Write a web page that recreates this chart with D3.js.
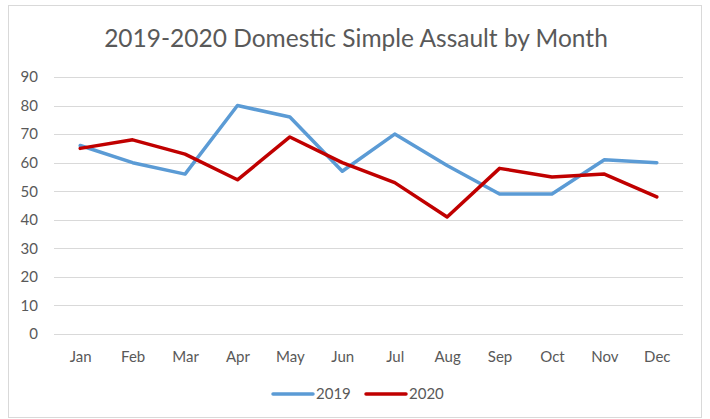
<!DOCTYPE html>
<html>
<head>
<meta charset="utf-8">
<script src="https://cdn.jsdelivr.net/npm/d3@7"></script>
<style>
  body { margin: 0; background: #fff; }
  svg { display: block; font-family: Lato, "Open Sans", sans-serif; }
</style>
</head>
<body>
<svg id="chart" width="710" height="419"></svg>
<script>
// data
const months = ['Jan', 'Feb', 'Mar', 'Apr', 'May', 'Jun', 'Jul', 'Aug', 'Sep', 'Oct', 'Nov', 'Dec'];
const values2019 = [66, 60, 56, 80, 76, 57, 70, 59, 49, 49, 61, 60];
const values2020 = [65, 68, 63, 54, 69, 60, 53, 41, 58, 55, 56, 48];
const yTicks = [0, 10, 20, 30, 40, 50, 60, 70, 80, 90];

const series = [
  { name: '2019', values: values2019, color: '#5B9BD5' },
  { name: '2020', values: values2020, color: '#C00000' },
];

const svg = d3.select('#chart');

// chart frame
svg.append('rect')
  .attr('x', 8.5).attr('y', 5.5)
  .attr('width', 693).attr('height', 412)
  .attr('fill', '#fff').attr('stroke', '#d9d9d9');

const plot = { left: 54, right: 683, top: 77, bottom: 334 };

const x = d3.scalePoint().domain(months).range([plot.left, plot.right]).padding(0.5);
const y = d3.scaleLinear().domain([0, 90]).range([plot.bottom, plot.top]);

// gridlines
svg.append('g')
  .selectAll('line')
  .data(yTicks)
  .enter().append('line')
  .attr('x1', plot.left).attr('x2', plot.right)
  .attr('y1', d => Math.round(y(d)) + 0.5).attr('y2', d => Math.round(y(d)) + 0.5)
  .attr('stroke', '#d9d9d9').attr('stroke-width', 1);

// y axis labels
const yAxis = svg.append('g')
  .attr('transform', `translate(${plot.left - 16},0)`)
  .call(d3.axisLeft(y).tickValues(yTicks).tickSize(0).tickPadding(0));
yAxis.select('.domain').remove();
yAxis.selectAll('text')
  .attr('fill', '#595959').style('font-size', '15px').style('font-family', 'Lato, sans-serif');

// x axis labels
const xAxis = svg.append('g')
  .attr('transform', `translate(0,${plot.bottom + 17})`)
  .call(d3.axisBottom(x).tickSize(0).tickPadding(0));
xAxis.select('.domain').remove();
xAxis.selectAll('text')
  .attr('fill', '#595959').style('font-size', '15px').style('font-family', 'Lato, sans-serif');

// lines
const line = d3.line()
  .x((d, i) => x(months[i]))
  .y(d => y(d));

svg.append('g')
  .selectAll('path')
  .data(series)
  .enter().append('path')
  .attr('d', d => line(d.values))
  .attr('fill', 'none')
  .attr('stroke', d => d.color)
  .attr('stroke-width', 3.5)
  .attr('stroke-linejoin', 'round')
  .attr('stroke-linecap', 'round');

// title
svg.append('text')
  .attr('x', 356).attr('y', 47)
  .attr('text-anchor', 'middle')
  .attr('fill', '#595959')
  .style('font-size', '24.5px')
  .text('2019-2020 Domestic Simple Assault by Month');

// legend
const legend = svg.append('g')
  .selectAll('g')
  .data(series)
  .enter().append('g')
  .attr('transform', (d, i) => `translate(${273 + i * 93},394)`);

legend.append('line')
  .attr('x1', 0).attr('x2', 40)
  .attr('stroke', d => d.color)
  .attr('stroke-width', 3.5)
  .attr('stroke-linecap', 'round');

legend.append('text')
  .attr('x', 43).attr('dy', '0.35em')
  .attr('fill', '#595959')
  .style('font-size', '15px')
  .text(d => d.name);
</script>
</body>
</html>
